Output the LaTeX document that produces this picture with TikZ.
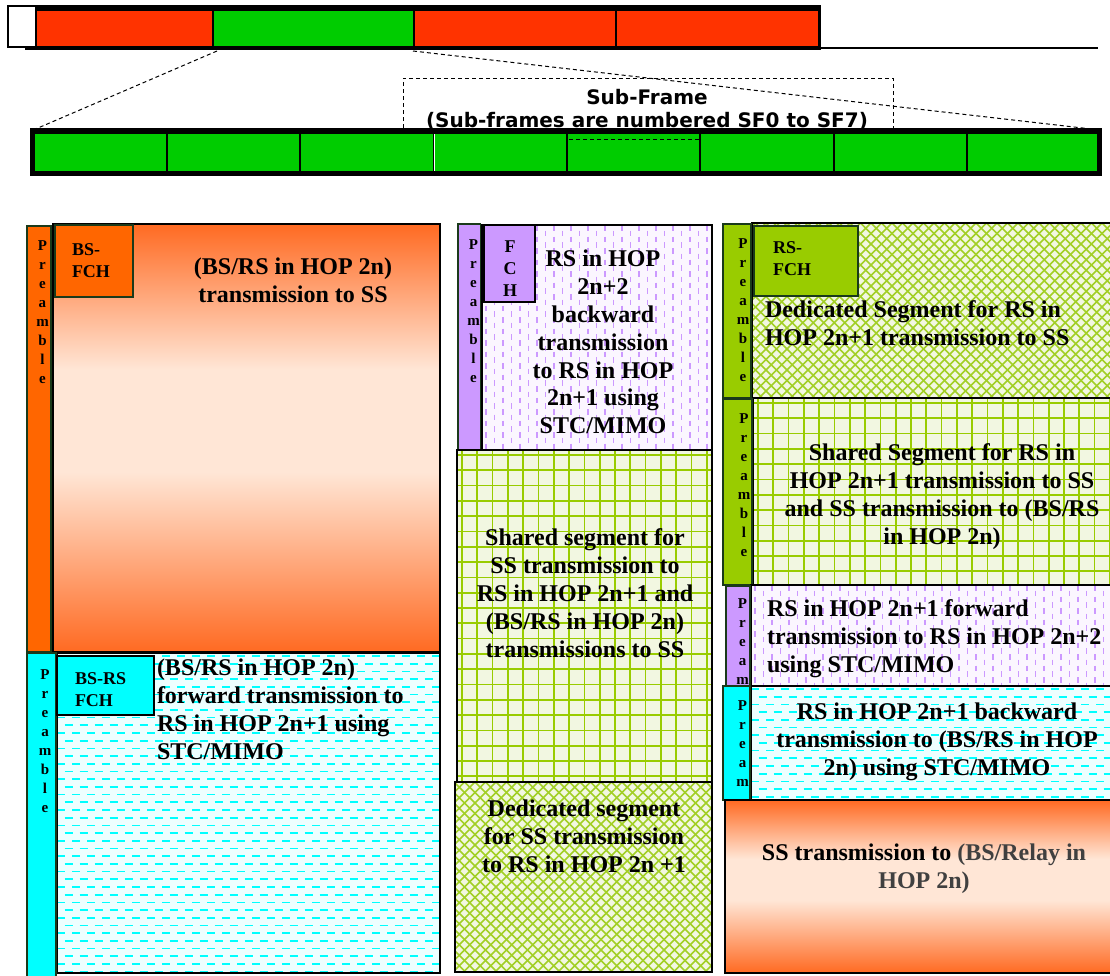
\documentclass[tikz,border=0pt]{standalone}
\usepackage{fontspec}
\setmainfont{Liberation Serif}
\newfontfamily\headfont{DejaVu Sans}

\definecolor{barRed}{HTML}{FF3300}
\definecolor{barGreen}{HTML}{00CC00}
\definecolor{orangeA}{HTML}{FF6600}
\definecolor{peachEdge}{HTML}{FF6A22}
\definecolor{peachMid}{HTML}{FFE6D6}
\definecolor{cyanA}{HTML}{00FFFF}
\definecolor{cyanBg}{HTML}{EDFFFF}
\definecolor{lilac}{HTML}{CC99FF}
\definecolor{lilacBg}{HTML}{FBF6FF}
\definecolor{leaf}{HTML}{99CC00}
\definecolor{leafLight}{HTML}{A2CF26}
\definecolor{leafBg}{HTML}{F2F7E1}
\definecolor{edgeDark}{HTML}{1A3A1A}
\definecolor{greyText}{HTML}{404040}

\pgfdeclareverticalshading{peach}{100bp}{color(0bp)=(peachEdge); color(25bp)=(peachEdge);
  color(46bp)=(peachMid); color(58bp)=(peachMid); color(75bp)=(peachEdge); color(100bp)=(peachEdge)}

\tikzset{
  boxedge/.style={draw=black, line width=2.4pt},
  preedge/.style={draw=edgeDark, line width=1.6pt},
  fchedge/.style={draw=edgeDark, line width=2pt},
  gridline/.style={draw=leaf, line width=1.7pt},
  hatchline/.style={draw=leafLight, line width=1.5pt},
  cyandash/.style={draw=cyanA, line width=1.7pt, dash pattern=on 8pt off 7pt},
  lilacdash/.style={draw=lilac, line width=1.4pt, dash pattern=on 5.5pt off 6pt},
  bodytext/.style={font=\fontsize{24}{27.8}\selectfont\bfseries, inner sep=0pt, outer sep=0pt},
  fchtext/.style={font=\fontsize{18}{22}\selectfont\bfseries, inner sep=0pt, outer sep=0pt},
  pretext/.style={font=\fontsize{15}{19}\selectfont\bfseries, inner sep=0pt, outer sep=0pt,
    align=center, anchor=north},
  subtext/.style={font=\headfont\fontsize{20}{21.5}\selectfont\bfseries, inner sep=0pt,
    outer sep=0pt, align=center, anchor=north},
  cut/.style={draw=black, line width=1pt, dash pattern=on 4pt off 3pt},
}

\newcommand\pretxt{\strut P\\r\\e\\a\\m\\b\\l\\e}

% square grid on a pale background
\newcommand\gridbox[4]{%
  \fill[leafBg] (#1,#2) rectangle (#3,#4);
  \begin{scope}
    \clip (#1,#2) rectangle (#3,#4);
    \pgfmathtruncatemacro\gnx{(#3-#1)/15.3+1}
    \pgfmathtruncatemacro\gny{(#4-#2)/15.3+1}
    \foreach \i in {0,...,\gnx}{\draw[gridline] ({#1+5+\i*15.3},#2) -- ({#1+5+\i*15.3},#4);}
    \foreach \j in {0,...,\gny}{\draw[gridline] (#1,{#2+5+\j*15.3}) -- (#3,{#2+5+\j*15.3});}
  \end{scope}
  \draw[boxedge] (#1,#2) rectangle (#3,#4);
}

% diagonal cross-hatch on a pale background
\newcommand\hatchbox[4]{%
  \fill[leafBg] (#1,#2) rectangle (#3,#4);
  \begin{scope}
    \clip (#1,#2) rectangle (#3,#4);
    \pgfmathsetmacro\hatchH{#4-#2}
    \pgfmathtruncatemacro\hatchN{(#3-#1+2*\hatchH)/10.5+1}
    \foreach \i in {0,...,\hatchN}{
      \draw[hatchline] ({#1-\hatchH+\i*10.5},#2) -- ++(\hatchH,\hatchH);
      \draw[hatchline] ({#1-\hatchH+\i*10.5},#2) -- ++(-\hatchH,\hatchH);}
  \end{scope}
  \draw[boxedge] (#1,#2) rectangle (#3,#4);
}

% staggered horizontal cyan dashes
\newcommand\cyanbox[4]{%
  \fill[cyanBg] (#1,#2) rectangle (#3,#4);
  \begin{scope}
    \clip (#1,#2) rectangle (#3,#4);
    \pgfmathtruncatemacro\cdn{(#4-#2)/7.7}
    \foreach \j in {0,...,\cdn}{
      \pgfmathsetmacro\cdph{mod(\j,2)*7.5}
      \draw[cyandash, dash phase=\cdph] (#1,{#2+3+\j*7.7}) -- (#3,{#2+3+\j*7.7});}
  \end{scope}
  \draw[boxedge] (#1,#2) rectangle (#3,#4);
}

% staggered vertical lilac dashes
\newcommand\lilacbox[4]{%
  \fill[lilacBg] (#1,#2) rectangle (#3,#4);
  \begin{scope}
    \clip (#1,#2) rectangle (#3,#4);
    \pgfmathtruncatemacro\ldn{(#3-#1)/8.5}
    \foreach \i in {0,...,\ldn}{
      \pgfmathsetmacro\ldph{mod(\i,2)*6}
      \draw[lilacdash, dash phase=\ldph] ({#1+4+\i*8.5},#2) -- ({#1+4+\i*8.5},#4);}
  \end{scope}
  \draw[boxedge] (#1,#2) rectangle (#3,#4);
}

% orange-peach-orange gradient block
\newcommand\peachbox[4]{%
  \shade[shading=peach] (#1,#2) rectangle (#3,#4);
  \draw[boxedge] (#1,#2) rectangle (#3,#4);
}

\begin{document}
\begin{tikzpicture}[x=1pt,y=-1pt]
\useasboundingbox (0,0) rectangle (1110,975);
\fill[white] (0,0) rectangle (1110,975);

% ---------- frame bar ----------
\fill[black] (25,5) rectangle (821,50);
\fill[barRed] (37,11) rectangle (212,46);
\fill[barGreen] (214,11) rectangle (413,46);
\fill[barRed] (415,11) rectangle (615,46);
\fill[barRed] (617,11) rectangle (818,46);
\draw[line width=1.8pt, fill=white] (8,6) rectangle (36,47);
\coordinate (tailStart) at (820,48);
\coordinate (tailEnd) at (1098,48);
\draw[line width=2pt] (tailStart) -- (tailEnd);

% sub-frame callout
\draw[cut] (403,128) -- (403,78) -- (893,78) -- (893,128);

% ---------- sub-frame bar ----------
\fill[black] (30,128) rectangle (1102,176);
\foreach \a/\b in {35/166,168/299,301/433,435/566,568/699,701/833,835/966,968/1097}
  \fill[barGreen] (\a,134) rectangle (\b,171);
\draw[white, line width=1pt] (434.5,134) -- (434.5,171);
\draw[cut] (569,139) -- (700,139);

% zoom lines from the second frame slot to the sub-frame bar
\coordinate (slotL) at (217,51);
\coordinate (slotR) at (413,51);
\coordinate (barL) at (31,131);
\coordinate (barR) at (1100,130);
\draw[cut] (slotL) -- (barL);
\draw[cut] (slotR) -- (barR);

\node[subtext] (subLabel) at (647,89.5) {\strut Sub-Frame\\(Sub-frames are numbered SF0 to SF7)};

% ---------- left column ----------
\peachbox{53}{224}{440}{652}
\fill[orangeA] (27,226) rectangle (51,652);
\draw[preedge] (27,226) rectangle (51,652);
\node[pretext] (preA) at (42.5,236.7) {\pretxt};
\fill[orangeA] (55,225) rectangle (133,297);
\draw[fchedge] (55,225) rectangle (133,297);
\node[fchtext, anchor=north west, align=left] (fchA) at (72,239.6) {\strut BS-\\FCH};
\node[bodytext, anchor=north, align=center] (txtA) at (293,255.5)
  {\strut(BS/RS in HOP 2n)\\transmission to SS};

\cyanbox{57}{653}{440}{973}
\fill[cyanA] (27,653) rectangle (56,977);
\draw[preedge] (27,653) rectangle (56,977);
\node[pretext] (preB) at (45,665.7) {\pretxt};
\fill[cyanA] (57,656) rectangle (154,715);
\draw[line width=2pt] (57,656) rectangle (154,715);
\node[fchtext, anchor=north west, align=left] (fchB) at (75,668.6) {\strut BS-RS\\FCH};
\node[bodytext, anchor=north west, align=left] (txtB) at (157,656.5)
  {\strut(BS/RS in HOP 2n)\\forward transmission to\\RS in HOP 2n+1 using\\STC/MIMO};

% ---------- middle column ----------
\lilacbox{482}{225}{712}{450}
\fill[lilac] (458,224) rectangle (480.5,450);
\draw[preedge] (458,224) rectangle (480.5,450);
\node[pretext] (preC) at (473.5,235.7) {\pretxt};
\fill[lilac] (484,225) rectangle (535,302);
\draw[line width=2pt] (484,225) rectangle (535,302);
\node[fchtext, anchor=north, align=center] (fchC) at (510,236.6) {\strut F\\C\\H};
\node[bodytext, anchor=north, align=center] (txtC) at (603,247.5)
  {\strut RS in HOP\\2n+2\\backward\\transmission\\to RS in HOP\\2n+1 using\\STC/MIMO};

\gridbox{457}{450}{712}{782}
\node[bodytext, anchor=north, align=center] (txtD) at (585,526.5)
  {\strut Shared segment for\\SS transmission to\\RS in HOP 2n+1 and\\(BS/RS in HOP 2n)\\transmissions to SS};

\hatchbox{455}{782}{712}{972}
\node[bodytext, anchor=north, align=center] (txtE) at (584,797.5)
  {\strut Dedicated segment\\for SS transmission\\to RS in HOP 2n +1};

% ---------- right column ----------
\hatchbox{752}{223}{1116}{398}
\fill[leaf] (723,224) rectangle (751,398);
\draw[preedge] (723,224) rectangle (751,398);
\node[pretext] (preD) at (743,234.7) {\pretxt};
\fill[leaf] (754,226) rectangle (858,296);
\draw[fchedge] (754,226) rectangle (858,296);
\node[fchtext, anchor=north west, align=left] (fchD) at (773,237.6) {\strut RS-\\FCH};
\node[bodytext, anchor=north west, align=left] (txtF) at (765,298.5)
  {\strut Dedicated Segment for RS in\\HOP 2n+1 transmission to SS};

\gridbox{753}{398}{1116}{585}
\fill[leaf] (723,399) rectangle (752,585);
\draw[preedge] (723,399) rectangle (752,585);
\node[pretext] (preE) at (744,409.7) {\pretxt};
\node[bodytext, anchor=north, align=center] (txtG) at (942,441.5)
  {\strut Shared Segment for RS in\\HOP 2n+1 transmission to SS\\and SS transmission to (BS/RS\\in HOP 2n)};

\lilacbox{751}{585}{1116}{686}
\fill[lilac] (726,586) rectangle (750,686);
\draw[preedge] (726,586) rectangle (750,686);
\begin{scope}
  \clip (726,586) rectangle (750,685);
  \node[pretext] (preF) at (742.5,594.7) {\strut P\\r\\e\\a\\m};
\end{scope}
\node[bodytext, anchor=north west, align=left] (txtH) at (767,597.5)
  {\strut RS in HOP 2n+1 forward\\transmission to RS in HOP 2n+2\\using STC/MIMO};

\cyanbox{751}{686}{1116}{800}
\fill[cyanA] (723,686) rectangle (750,800);
\draw[preedge] (723,686) rectangle (750,800);
\node[pretext] (preG) at (742.5,696.7) {\strut P\\r\\e\\a\\m};
\node[bodytext, anchor=north, align=center] (txtI) at (937,700.5)
  {\strut RS in HOP 2n+1 backward\\transmission to (BS/RS in HOP\\2n) using STC/MIMO};

\peachbox{725}{800}{1116}{973}
\node[bodytext, anchor=north, align=center] (txtJ) at (924,841.5)
  {\strut SS transmission to {\color{greyText}(BS/Relay in}\\{\color{greyText}HOP 2n)}};

\end{tikzpicture}
\end{document}
